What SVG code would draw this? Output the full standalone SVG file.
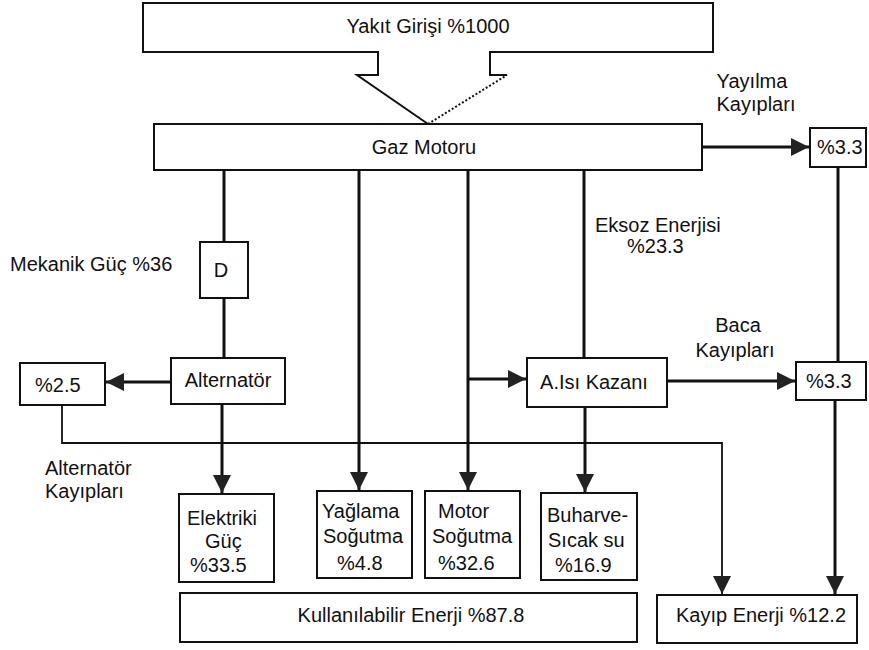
<svg xmlns="http://www.w3.org/2000/svg" width="869" height="650" viewBox="0 0 869 650">
<style>
.box{fill:#fff;stroke:#111;stroke-width:2}
.t{font-family:"Liberation Sans",Arial,sans-serif;font-size:20px;fill:#111}
.m{text-anchor:middle}
.ln{fill:none;stroke:#111;stroke-width:3}
.thin{fill:none;stroke:#111;stroke-width:1.8}
</style>
<defs>
<marker id="ah" viewBox="0 0 10 10" refX="10" refY="5" markerWidth="18" markerHeight="18" markerUnits="userSpaceOnUse" orient="auto">
<path d="M0,0 L10,5 L0,10 Z" fill="#222"/>
</marker>
</defs>
<rect width="869" height="650" fill="#fff"/>
<g id="connectors">
<line class="ln" x1="224" y1="170" x2="224" y2="242"/>
<line class="ln" x1="224" y1="298" x2="224" y2="358"/>
<line class="ln" x1="171" y1="382" x2="106" y2="382" marker-end="url(#ah)"/>
<line class="ln" x1="222" y1="404" x2="222" y2="493" marker-end="url(#ah)"/>
<line class="ln" x1="359" y1="170" x2="359" y2="490" marker-end="url(#ah)"/>
<line class="ln" x1="468" y1="170" x2="468" y2="490" marker-end="url(#ah)"/>
<line class="ln" x1="468" y1="379" x2="526" y2="379" marker-end="url(#ah)"/>
<line class="ln" x1="584" y1="170" x2="584" y2="358"/>
<line class="ln" x1="585" y1="407" x2="585" y2="492" marker-end="url(#ah)"/>
<line class="ln" x1="667" y1="381" x2="795" y2="381" marker-end="url(#ah)"/>
<line class="ln" x1="702" y1="147" x2="809" y2="147" marker-end="url(#ah)"/>
<line class="ln" x1="838" y1="167" x2="838" y2="362"/>
<line class="ln" x1="835" y1="400" x2="835" y2="594" marker-end="url(#ah)"/>
<polyline class="thin" points="62,405 62,443 722,443 722,594" marker-end="url(#ah)"/>
</g>
<g id="yakit">
<path d="M507,75 H490 V52 H713 V3 H143 V52 H378 V75 H357 L428,124" fill="#fff" stroke="#111" stroke-width="2"/>
<path d="M428,124 L507,75" fill="none" stroke="#111" stroke-width="2" stroke-dasharray="2,2"/>
<text class="t m" x="428" y="33">Yakıt Girişi %1000</text>
</g>
<g id="gazmotoru">
<rect class="box" x="154" y="124" width="548" height="46"/>
<text class="t m" x="424" y="154">Gaz Motoru</text>
</g>
<g id="yayilma-label">
<text class="t m" x="752" y="88">Yayılma</text>
<text class="t m" x="756" y="111">Kayıpları</text>
</g>
<g id="kayip1">
<rect class="box" x="810" y="128" width="56" height="39"/>
<text class="t" x="817" y="154">%3.3</text>
</g>
<g id="mekanik-label">
<text class="t" x="10" y="271">Mekanik Güç %36</text>
</g>
<g id="d">
<rect class="box" x="200" y="242" width="48" height="56"/>
<text class="t m" x="221" y="277">D</text>
</g>
<g id="eksoz-label">
<text class="t" x="595" y="232">Eksoz Enerjisi</text>
<text class="t" x="627" y="253">%23.3</text>
</g>
<g id="baca-label">
<text class="t m" x="738" y="332">Baca</text>
<text class="t m" x="735" y="357">Kayıpları</text>
</g>
<g id="kayip2">
<rect class="box" x="796" y="362" width="70" height="38"/>
<text class="t" x="806" y="388">%3.3</text>
</g>
<g id="alternator">
<rect class="box" x="171" y="358" width="114" height="46"/>
<text class="t m" x="228" y="387">Alternatör</text>
</g>
<g id="kayip-alt">
<rect class="box" x="20" y="363" width="85" height="42"/>
<text class="t" x="35" y="392">%2.5</text>
</g>
<g id="alt-label">
<text class="t" x="45" y="475">Alternatör</text>
<text class="t" x="45" y="498">Kayıpları</text>
</g>
<g id="isikazani">
<rect class="box" x="527" y="358" width="140" height="49"/>
<text class="t m" x="594" y="389">A.Isı Kazanı</text>
</g>
<g id="elektriki">
<rect class="box" x="179" y="494" width="95" height="88"/>
<text class="t" x="187" y="525">Elektriki</text>
<text class="t" x="205" y="548">Güç</text>
<text class="t" x="190" y="572">%33.5</text>
</g>
<g id="yaglama">
<rect class="box" x="317" y="491" width="95" height="87"/>
<text class="t" x="322" y="518">Yağlama</text>
<text class="t" x="323" y="543">Soğutma</text>
<text class="t" x="337" y="570">%4.8</text>
</g>
<g id="motor">
<rect class="box" x="425" y="491" width="95" height="87"/>
<text class="t" x="438" y="518">Motor</text>
<text class="t" x="432" y="543">Soğutma</text>
<text class="t" x="438" y="570">%32.6</text>
</g>
<g id="buhar">
<rect class="box" x="541" y="493" width="96" height="87"/>
<text class="t" x="547" y="522">Buharve-</text>
<text class="t" x="548" y="547">Sıcak su</text>
<text class="t" x="555" y="572">%16.9</text>
</g>
<g id="kullanilabilir">
<rect class="box" x="180" y="593" width="457" height="49"/>
<text class="t m" x="411" y="622">Kullanılabilir Enerji %87.8</text>
</g>
<g id="kayipenerji">
<rect class="box" x="657" y="595" width="200" height="48"/>
<text class="t m" x="761" y="622">Kayıp Enerji %12.2</text>
</g>
</svg>
